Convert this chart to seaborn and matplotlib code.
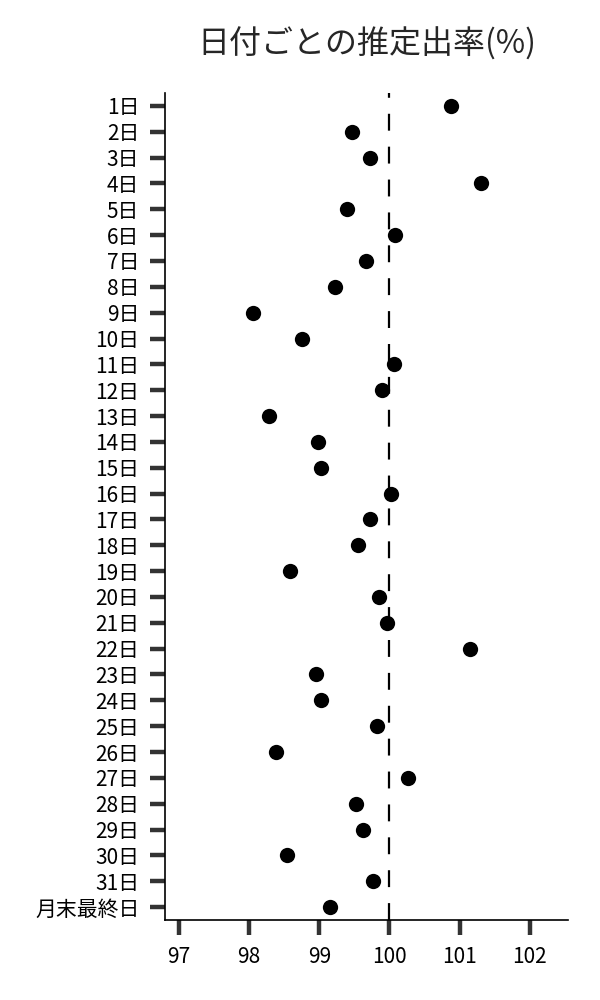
import numpy as np
import pandas as pd
import matplotlib
matplotlib.use("Agg")
import matplotlib.pyplot as plt
import seaborn as sns

# 日付ラベルと推定出率(%)
days = [f"{i}日" for i in range(1, 32)] + ["月末最終日"]
rates = [100.88, 99.47, 99.72, 101.30, 99.40, 100.08, 99.66, 99.22,
         98.05, 98.75, 100.06, 99.90, 98.28, 98.98, 99.02, 100.03,
         99.72, 99.55, 98.58, 99.85, 99.96, 101.15, 98.96, 99.03,
         99.82, 98.38, 100.26, 99.52, 99.62, 98.54, 99.77, 99.15]
x_ticks = [97, 98, 99, 100, 101, 102]
ref_value = 100

df = pd.DataFrame({"day": days, "rate": rates})

sns.set_style("ticks")
plt.rcParams["font.family"] = ["Noto Sans CJK JP", "DejaVu Sans"]

fig = plt.figure(figsize=(6, 10), dpi=100)
ax = fig.add_axes([0.275, 0.08, 0.672, 0.827])

sns.stripplot(data=df, x="rate", y="day", order=days, jitter=False,
              color="black", size=11, ax=ax)
# 基準線 100%
ax.axvline(ref_value, color="black", linewidth=1.6, linestyle=(0, (7.6, 7.2)), zorder=1)

ax.set_xlim(96.8, 102.55)
ax.set_xticks(x_ticks)
ax.set_xlabel("")
ax.set_ylabel("")
ax.set_title("日付ごとの推定出率(%)", fontsize=23, pad=28)

ax.tick_params(axis="both", which="major", length=11, width=3.2, color="#333333",
               labelsize=15, labelcolor="black")
ax.tick_params(axis="y", pad=7.5)
ax.tick_params(axis="x", pad=8)
for side in ["left", "bottom"]:
    ax.spines[side].set_color("black")
    ax.spines[side].set_linewidth(1.2)
sns.despine(ax=ax)

fig.savefig("out.png", dpi=100)
